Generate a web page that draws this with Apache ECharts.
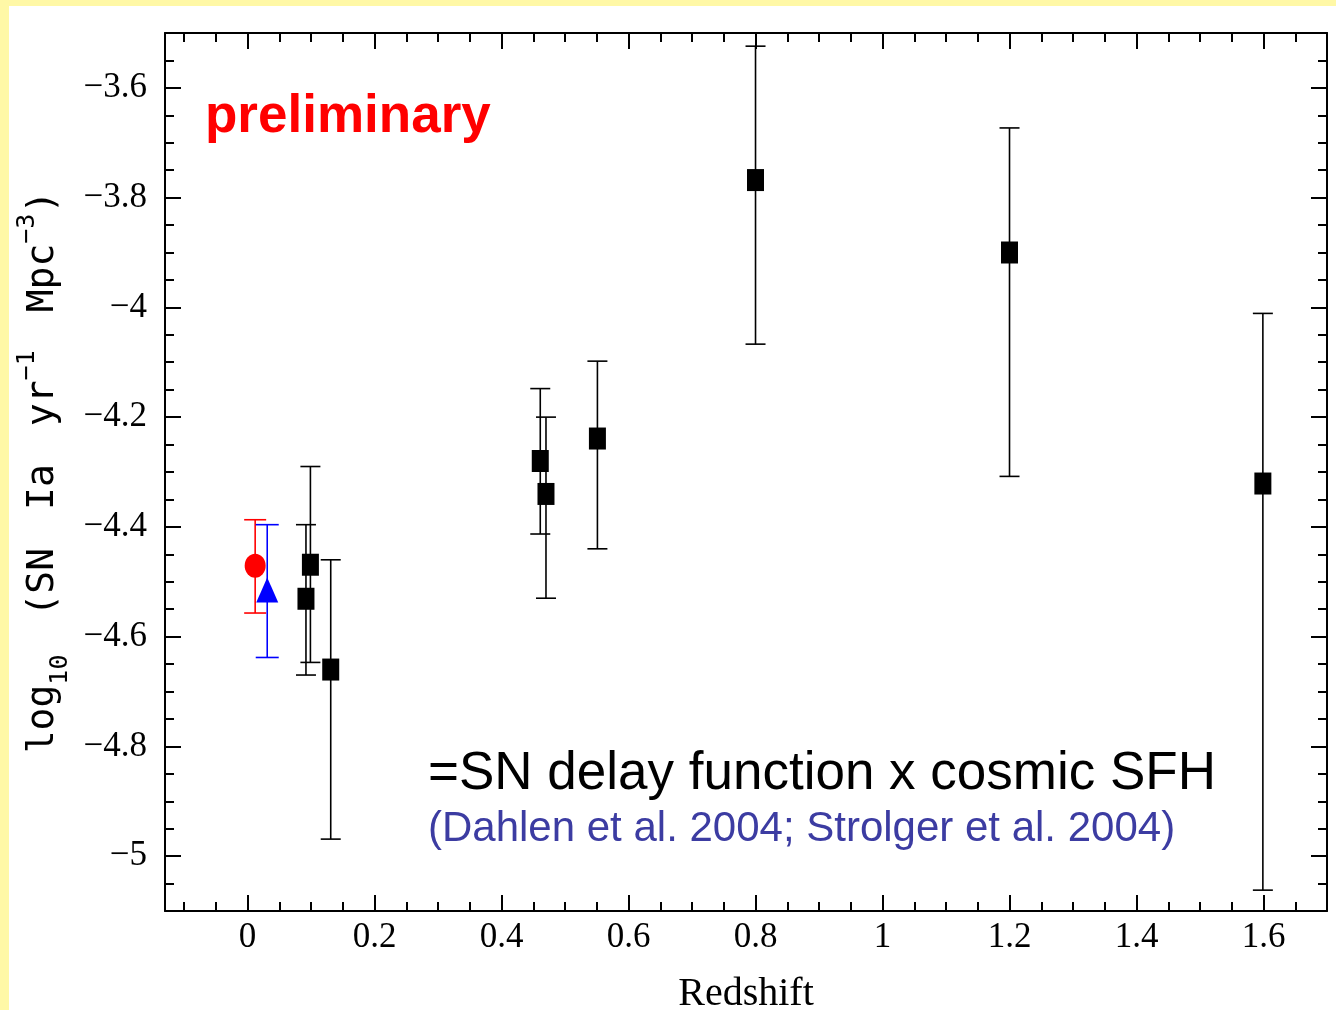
<!DOCTYPE html>
<html><head><meta charset="utf-8">
<script src="https://cdn.jsdelivr.net/npm/echarts@6/dist/echarts.min.js"></script>
<style>html,body{margin:0;padding:0;background:#fff8a6;}#c{width:1336px;height:1010px;}</style>
</head><body><div id="c"></div>
<script>
// ---- data ----
const zBlack  = [0.092, 0.099, 0.131, 0.461, 0.470, 0.551, 0.800, 1.200, 1.599];
const yBlack  = [-4.531, -4.469, -4.660, -4.280, -4.340, -4.239, -3.768, -3.900, -4.321];
const yBlackHi= [-4.396, -4.290, -4.460, -4.148, -4.200, -4.098, -3.524, -3.673, -4.011];
const yBlackLo= [-4.670, -4.647, -4.969, -4.413, -4.530, -4.440, -4.067, -4.308, -5.062];
const zRed  = [0.012];
const yRed  = [-4.471];
const yRedHi= [-4.387];
const yRedLo= [-4.557];
const zBlue  = [0.031];
const yBlue  = [-4.515];
const yBlueHi= [-4.396];
const yBlueLo= [-4.638];
// ---- ticks ----
const xMajor = [0, 0.2, 0.4, 0.6, 0.8, 1, 1.2, 1.4, 1.6];
const xMinor = [-0.1,-0.05,0.05,0.1,0.15,0.25,0.3,0.35,0.45,0.5,0.55,0.65,0.7,0.75,0.85,0.9,0.95,1.05,1.1,1.15,1.25,1.3,1.35,1.45,1.5,1.55,1.65];
const yMajor = [-5, -4.8, -4.6, -4.4, -4.2, -4, -3.8, -3.6];
const yMinor = [-5.05,-4.95,-4.9,-4.85,-4.75,-4.7,-4.65,-4.55,-4.5,-4.45,-4.35,-4.3,-4.25,-4.15,-4.1,-4.05,-3.95,-3.9,-3.85,-3.75,-3.7,-3.65,-3.55];
const xLabels = ['0','0.2','0.4','0.6','0.8','1','1.2','1.4','1.6'];
const yLabels = ['−5','−4.8','−4.6','−4.4','−4.2','−4','−3.8','−3.6'];

const chart = echarts.init(document.getElementById('c'), null, {renderer:'canvas'});
const lineStyle = {color:'#000', width:2};
function mkAxis(kind, pos, ticks, len, withLine, withLabels, extra) {
  const a = {
    type:'value', gridIndex:0, position:pos,
    min: kind==='x' ? -0.13 : -5.1,
    max: kind==='x' ? 1.70 : -3.5,
    axisLine:{show:withLine, onZero:false, lineStyle},
    axisTick:{show:true, inside:true, length:len, customValues:ticks, lineStyle:{color:'#000', width:2}},
    axisLabel:{show:false},
    splitLine:{show:false}, minorTick:{show:false}, minorSplitLine:{show:false}
  };
  if (withLabels) {
    const labs = kind==='x' ? xLabels : yLabels;
    a.axisLabel = {show:true, customValues:ticks,
      formatter: v => { const i = ticks.findIndex(t => Math.abs(t - v) < 1e-9); return i >= 0 ? labs[i] : ''; },
      fontFamily:'Liberation Serif', fontSize:35, color:'#000',
      margin: kind==='x' ? 9 : 18};
  }
  return Object.assign(a, extra || {});
}
function errRender(capW, color) {
  return function (params, api) {
    const x = api.value(0), lo = api.value(1), hi = api.value(2);
    const a = api.coord([x, lo]), b = api.coord([x, hi]);
    const st = {stroke:color, lineWidth:1.6};
    return {type:'group', children:[
      {type:'line', shape:{x1:a[0], y1:a[1], x2:b[0], y2:b[1]}, style:st},
      {type:'line', shape:{x1:a[0]-capW/2, y1:a[1], x2:a[0]+capW/2, y2:a[1]}, style:st},
      {type:'line', shape:{x1:b[0]-capW/2, y1:b[1], x2:b[0]+capW/2, y2:b[1]}, style:st}
    ]};
  };
}
const zip3 = (x, lo, hi) => x.map((v, i) => [v, lo[i], hi[i]]);
const zip2 = (x, y) => x.map((v, i) => [v, y[i]]);

const mono = 'DejaVu Sans Mono';
chart.setOption({
  backgroundColor:'#fff8a6',
  animation:false,
  graphic:[
    {type:'rect', z:-100, silent:true, shape:{x:9, y:6, width:1327, height:1004}, style:{fill:'#fff'}},
    {type:'text', z:100, style:{text:'preliminary', x:205, y:117, verticalAlign:'middle', fontFamily:'Liberation Sans', fontWeight:'bold', fontSize:53, fill:'#ff0000'}},
    {type:'text', z:100, style:{text:'=SN delay function x cosmic SFH', x:428, y:774, verticalAlign:'middle', fontFamily:'Liberation Sans', fontSize:53, fill:'#000'}},
    {type:'text', z:100, style:{text:'(Dahlen et al. 2004; Strolger et al. 2004)', x:428, y:829, verticalAlign:'middle', fontFamily:'Liberation Sans', fontSize:42, fill:'#3c3ca2'}}
  ],
  grid:{left:165, top:33, right:9, bottom:99, containLabel:false, outerBoundsMode:'none'},
  xAxis:[
    mkAxis('x','bottom', xMajor, 16, true, true, {name:'Redshift', nameLocation:'middle', nameGap:63,
      nameTextStyle:{fontFamily:'Liberation Serif', fontSize:40, color:'#000'}}),
    mkAxis('x','bottom', xMinor, 9, false, false),
    mkAxis('x','top', xMajor, 16, true, false),
    mkAxis('x','top', xMinor, 9, false, false)
  ],
  yAxis:[
    mkAxis('y','left', yMajor, 16, true, true, {
      name:'{a|log}{s|10}{g| }{a|(SN}{g| }{a|Ia}{g| }{a|yr}{p|−1}{g| }{a|Mpc}{p|−3}{a|)}',
      nameLocation:'middle', nameRotate:90, nameGap:88,
      nameTextStyle:{fontFamily:mono, fontSize:38, color:'#000',
        rich:{
          a:{fontFamily:mono, fontSize:38, color:'#000', lineHeight:58, verticalAlign:'middle'},
          g:{fontFamily:mono, fontSize:38, color:'#000', lineHeight:58, width:38},
          s:{fontFamily:mono, fontSize:25, color:'#000', lineHeight:28, verticalAlign:'bottom'},
          p:{fontFamily:mono, fontSize:25, color:'#000', lineHeight:28, verticalAlign:'top'}
        }}}),
    mkAxis('y','left', yMinor, 9, false, false),
    mkAxis('y','right', yMajor, 16, true, false),
    mkAxis('y','right', yMinor, 9, false, false)
  ],
  series:[
    {type:'custom', xAxisIndex:0, yAxisIndex:0, z:3, renderItem:errRender(20,'#000'), encode:{x:0, y:[1,2]}, data:zip3(zBlack, yBlackLo, yBlackHi)},
    {type:'custom', xAxisIndex:0, yAxisIndex:0, z:3, renderItem:errRender(22,'#ff0000'), encode:{x:0, y:[1,2]}, data:zip3(zRed, yRedLo, yRedHi)},
    {type:'custom', xAxisIndex:0, yAxisIndex:0, z:3, renderItem:errRender(23,'#0000ff'), encode:{x:0, y:[1,2]}, data:zip3(zBlue, yBlueLo, yBlueHi)},
    {type:'scatter', xAxisIndex:0, yAxisIndex:0, z:5, symbol:'circle', symbolSize:[21,24], itemStyle:{color:'#ff0000', opacity:1}, data:zip2(zRed, yRed)},
    {type:'scatter', xAxisIndex:0, yAxisIndex:0, z:5, symbol:'triangle', symbolSize:[22,25], itemStyle:{color:'#0000ff', opacity:1}, data:zip2(zBlue, yBlue)},
    {type:'scatter', xAxisIndex:0, yAxisIndex:0, z:6, symbol:'rect', symbolSize:[17,22], itemStyle:{color:'#000', opacity:1}, data:zip2(zBlack, yBlack)}
  ]
});
</script></body></html>
